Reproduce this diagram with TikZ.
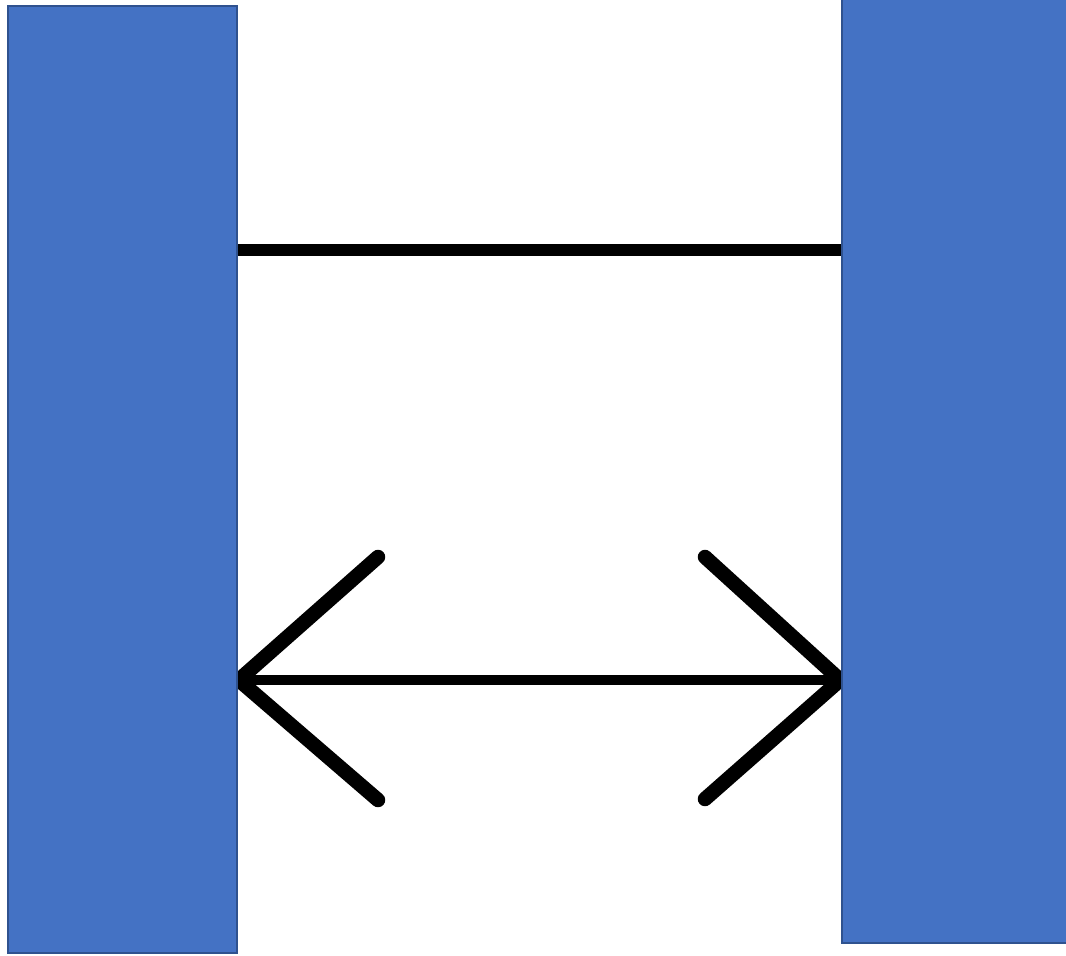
\documentclass[tikz,border=0pt]{standalone}
\definecolor{barfill}{HTML}{4472C4}
\definecolor{barline}{HTML}{2F528F}
\pgfdeclarelayer{bg}
\pgfsetlayers{bg,main}
\begin{document}
\begin{tikzpicture}[x=1pt,y=-1pt,
  bar/.style={rectangle, draw=barline, fill=barfill, line width=1.5pt, inner sep=0pt},
  conn/.style={draw=black, line width=10.5pt},
  topconn/.style={draw=black, line width=12pt},
  arm/.style={draw=black, line width=14.5pt, line cap=round}]
\useasboundingbox (0,0) rectangle (1066,956);
\node[bar, minimum width=229pt, minimum height=947pt] (L) at (122.5,479.5) {};
\node[bar, minimum width=228pt, minimum height=948pt] (R) at (956,469) {};
\coordinate (ta) at (L.east |- 0,250);
\coordinate (tb) at (R.west |- 0,250);
\coordinate (ba) at (L.east |- 0,680);
\coordinate (bb) at (R.west |- 0,680);
\coordinate (lu) at (378,557);
\coordinate (ld) at (378,800);
\coordinate (ru) at (705,557);
\coordinate (rd) at (705,799);
\begin{pgfonlayer}{bg}
% top connector
\draw[topconn] (ta) -- (tb);
% bottom double arrow
\draw[conn] (ba) -- (bb);
\draw[arm] (lu) -- ([xshift=1pt]ba) -- (ld);
\draw[arm] (ru) -- ([xshift=-1pt]bb) -- (rd);
\end{pgfonlayer}
\end{tikzpicture}
\end{document}
